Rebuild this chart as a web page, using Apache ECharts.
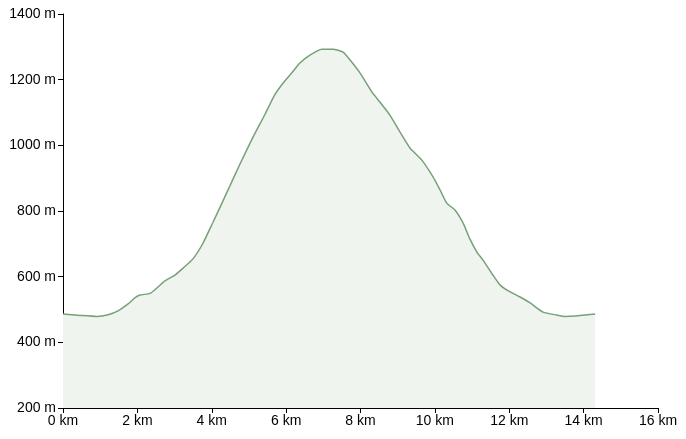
<!DOCTYPE html>
<html><head><meta charset="utf-8">
<script src="https://cdn.jsdelivr.net/npm/echarts@6/dist/echarts.min.js"></script>
<style>html,body{margin:0;padding:0;background:#fff}#c{width:686px;height:439px}</style>
</head><body><div id="c"></div>
<script>
const distanceKm = [0,0.46,0.91,1.21,1.48,1.75,1.94,2.07,2.34,2.50,2.74,3.01,3.23,3.50,3.76,4.03,4.30,4.49,4.76,5.11,5.43,5.70,5.92,6.16,6.37,6.64,6.96,7.26,7.53,7.72,7.99,8.31,8.52,8.79,9.06,9.33,9.65,9.95,10.14,10.32,10.54,10.76,10.94,11.13,11.29,11.56,11.75,11.94,12.29,12.56,12.91,13.28,13.5,13.77,14.04,14.31];
const elevationM = [486,482,479,484,496,517,536,544,549,563,587,605,626,655,701,765,830,877,943,1025,1094,1155,1190,1222,1251,1275,1293,1293,1284,1260,1220,1162,1132,1092,1041,992,955,904,864,824,803,763,715,675,651,605,575,559,538,520,492,483,479,480,483,486];
const xTicks = {min:0,max:16,interval:2,unit:' km'};
const yTicks = {min:200,max:1400,interval:200,unit:' m'};
const chart = echarts.init(document.getElementById('c'));
const labelStyle = {color:'#000',fontSize:14,fontFamily:'Liberation Sans, Arial, sans-serif',margin:7};
const axisLine = {show:true,lineStyle:{color:'#000',width:1}};
const axisTick = {show:true,length:5,lineStyle:{color:'#000'}};
chart.setOption({
  animation:false,
  grid:{left:63,right:28,top:14,bottom:31},
  xAxis:{type:'value',min:xTicks.min,max:xTicks.max,interval:xTicks.interval,
    axisLabel:Object.assign({},labelStyle,{formatter:v=>v+xTicks.unit,margin:6}),
    axisLine,axisTick,splitLine:{show:false}},
  yAxis:{type:'value',min:yTicks.min,max:yTicks.max,interval:yTicks.interval,
    axisLabel:Object.assign({},labelStyle,{formatter:v=>v+yTicks.unit}),
    axisLine,axisTick,splitLine:{show:false}},
  series:[{
    type:'line',
    data:distanceKm.map((d,i)=>[d,elevationM[i]]),
    showSymbol:false,
    smooth:0.2,
    lineStyle:{color:'#78a078',width:1.5},
    areaStyle:{color:'#eff4ee',opacity:1,origin:'start'}
  }]
});
</script></body></html>
